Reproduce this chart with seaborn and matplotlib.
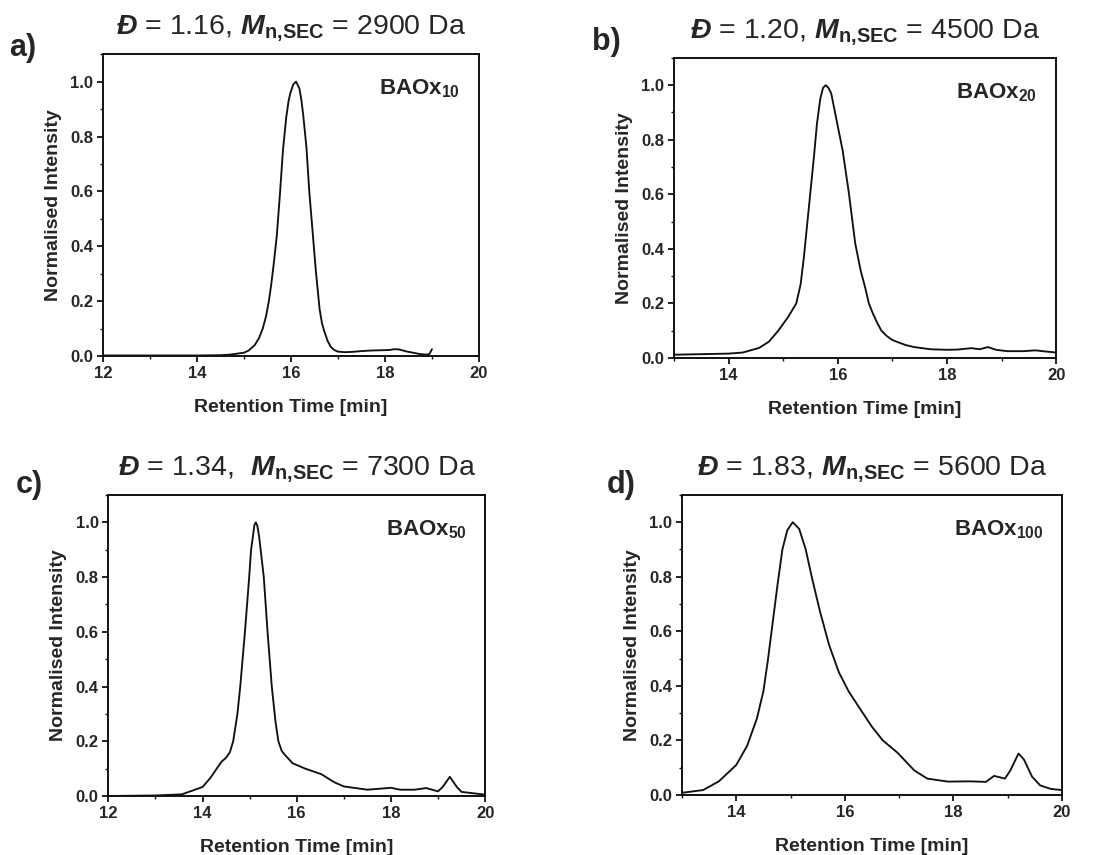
import numpy as np
import pandas as pd
import matplotlib
matplotlib.use("Agg")
import matplotlib.pyplot as plt
from matplotlib.ticker import MultipleLocator, FormatStrFormatter
import seaborn as sns

# SEC traces (retention time [min], normalised intensity)
t_a = [12.0, 13.0, 14.0, 14.5, 14.7, 15.0, 15.1, 15.23, 15.32, 15.4, 15.47, 15.53, 15.58, 15.63,
       15.7, 15.77, 15.83, 15.9, 15.95, 15.99, 16.05, 16.11, 16.18, 16.22, 16.26, 16.33, 16.39,
       16.46, 16.53, 16.61, 16.66, 16.71, 16.78, 16.85, 16.92, 17.0, 17.15, 17.3, 17.5, 17.7,
       17.9, 18.1, 18.2, 18.3, 18.45, 18.6, 18.75, 18.9, 18.95, 19.0]
i_a = [0.002, 0.002, 0.002, 0.003, 0.005, 0.012, 0.02, 0.04, 0.065, 0.1, 0.145, 0.2, 0.26, 0.33,
       0.44, 0.6, 0.75, 0.87, 0.93, 0.96, 0.99, 1.0, 0.975, 0.935, 0.88, 0.76, 0.6,
       0.455, 0.31, 0.17, 0.12, 0.09, 0.055, 0.033, 0.022, 0.016, 0.014, 0.015, 0.018, 0.02,
       0.021, 0.022, 0.025, 0.024, 0.017, 0.012, 0.007, 0.005, 0.008, 0.025]

t_b = [13.0, 13.5, 14.0, 14.26, 14.56, 14.74, 14.91, 15.09, 15.24, 15.32, 15.38, 15.44, 15.5,
       15.56, 15.62, 15.68, 15.73, 15.78, 15.83, 15.88, 15.97, 16.09, 16.2, 16.32, 16.42, 16.5,
       16.57, 16.65, 16.72, 16.8, 16.9, 17.0, 17.1, 17.25, 17.4, 17.7, 18.0, 18.2, 18.45, 18.6,
       18.75, 18.9, 19.1, 19.4, 19.62, 19.8, 20.0]
i_b = [0.012, 0.014, 0.016, 0.02, 0.037, 0.06, 0.1, 0.15, 0.2, 0.27, 0.37, 0.49, 0.61,
       0.73, 0.86, 0.95, 0.99, 1.0, 0.99, 0.97, 0.88, 0.76, 0.61, 0.42, 0.32, 0.26,
       0.2, 0.16, 0.13, 0.1, 0.08, 0.066, 0.058, 0.047, 0.04, 0.032, 0.03, 0.031, 0.036, 0.032,
       0.04, 0.03, 0.025, 0.025, 0.028, 0.024, 0.02]

t_c = [12.0, 13.0, 13.56, 14.0, 14.17, 14.3, 14.4, 14.5, 14.58, 14.65, 14.74, 14.8, 14.9,
       14.99, 15.03, 15.07, 15.1, 15.13, 15.16, 15.2, 15.3, 15.38, 15.47, 15.55, 15.61, 15.68,
       15.75, 15.91, 16.18, 16.52, 16.8, 17.0, 17.5, 18.0, 18.2, 18.5, 18.75, 19.0, 19.1,
       19.25, 19.4, 19.5, 20.0]
i_c = [0.0, 0.002, 0.006, 0.033, 0.067, 0.1, 0.125, 0.14, 0.16, 0.2, 0.3, 0.4, 0.6,
       0.8, 0.9, 0.95, 0.99, 1.0, 0.99, 0.95, 0.8, 0.6, 0.4, 0.27, 0.2, 0.165,
       0.15, 0.12, 0.1, 0.08, 0.05, 0.035, 0.023, 0.03, 0.023, 0.023, 0.029, 0.017, 0.033,
       0.07, 0.033, 0.015, 0.005]

t_d = [13.0, 13.39, 13.68, 14.0, 14.2, 14.38, 14.5, 14.58, 14.67, 14.76, 14.85, 14.94, 15.04,
       15.16, 15.28, 15.39, 15.54, 15.71, 15.89, 16.07, 16.3, 16.5, 16.7, 16.97, 17.28, 17.52,
       17.9, 18.3, 18.6, 18.75, 18.95, 19.05, 19.2, 19.3, 19.45, 19.6, 19.8, 20.0]
i_d = [0.008, 0.018, 0.05, 0.11, 0.18, 0.28, 0.38, 0.49, 0.63, 0.77, 0.9, 0.97, 1.0,
       0.975, 0.9, 0.8, 0.675, 0.55, 0.45, 0.38, 0.31, 0.25, 0.2, 0.155, 0.09, 0.06,
       0.049, 0.05, 0.048, 0.07, 0.06, 0.09, 0.152, 0.13, 0.067, 0.035, 0.022, 0.018]

panel_tags = ["a)", "b)", "c)", "d)"]
samples = [r"$\mathbf{BAOx_{10}}$", r"$\mathbf{BAOx_{20}}$",
           r"$\mathbf{BAOx_{50}}$", r"$\mathbf{BAOx_{100}}$"]
titles = [r"$\mathbfit{Đ}$ = 1.16, $\mathbfit{M}_{\mathbf{n{,}SEC}}$ = 2900 Da",
          r"$\mathbfit{Đ}$ = 1.20, $\mathbfit{M}_{\mathbf{n{,}SEC}}$ = 4500 Da",
          r"$\mathbfit{Đ}$ = 1.34,  $\mathbfit{M}_{\mathbf{n{,}SEC}}$ = 7300 Da",
          r"$\mathbfit{Đ}$ = 1.83, $\mathbfit{M}_{\mathbf{n{,}SEC}}$ = 5600 Da"]
x_lims = [(12, 20), (13, 20), (12, 20), (13, 20)]

sns.set_theme(style="ticks")
plt.rcParams["font.family"] = ["Liberation Sans", "DejaVu Sans"]
plt.rcParams["mathtext.fontset"] = "custom"
plt.rcParams["mathtext.rm"] = "Liberation Sans"
plt.rcParams["mathtext.it"] = "Liberation Sans:italic"
plt.rcParams["mathtext.bf"] = "Liberation Sans:bold"
plt.rcParams["mathtext.bfit"] = "Liberation Sans:italic:bold"

fig = plt.figure(figsize=(10.95, 8.55), dpi=100)
boxes = [[0.0940, 0.5836, 0.3434, 0.353],
         [0.6155, 0.5813, 0.3490, 0.351],
         [0.0990, 0.0690, 0.3440, 0.352],
         [0.6228, 0.0702, 0.3470, 0.351]]
tag_pos = [(0.008, 0.934), (0.541, 0.941), (0.014, 0.423), (0.554, 0.423)]

traces = [(t_a, i_a), (t_b, i_b), (t_c, i_c), (t_d, i_d)]
for k, (t, y) in enumerate(traces):
    ax = fig.add_axes(boxes[k])
    df = pd.DataFrame({"t": t, "y": y})
    sns.lineplot(data=df, x="t", y="y", ax=ax, color="#111111", linewidth=1.35, sort=False,
                 solid_joinstyle="round", solid_capstyle="round")
    ax.set_xlim(*x_lims[k])
    ax.set_ylim(0, 1.1)
    ax.xaxis.set_major_locator(MultipleLocator(2))
    ax.xaxis.set_minor_locator(MultipleLocator(1))
    ax.yaxis.set_major_locator(MultipleLocator(0.2))
    ax.yaxis.set_minor_locator(MultipleLocator(0.1))
    ax.yaxis.set_major_formatter(FormatStrFormatter("%.1f"))
    ax.tick_params(which="major", direction="out", length=4, width=1.3,
                   labelsize=12, pad=3, top=False, right=False, color="#111111")
    ax.tick_params(which="minor", direction="out", length=2.5, width=1.0,
                   top=False, right=False, color="#111111")
    for lab in ax.get_xticklabels() + ax.get_yticklabels():
        lab.set_fontweight("bold")
    for s in ax.spines.values():
        s.set_visible(True)
        s.set_linewidth(1.4)
        s.set_color("#111111")
    ax.set_xlabel("Retention Time [min]", fontsize=14, fontweight="bold", labelpad=13)
    ax.set_ylabel("Normalised Intensity", fontsize=14, fontweight="bold", labelpad=6)
    ax.set_title(titles[k], fontsize=20.5, pad=15)
    ax.text(0.95, 0.885, samples[k], transform=ax.transAxes, ha="right", va="center",
            fontsize=16)
    fig.text(tag_pos[k][0], tag_pos[k][1], panel_tags[k], fontsize=22, fontweight="bold")

fig.savefig("out.png", dpi=100, facecolor="white")
